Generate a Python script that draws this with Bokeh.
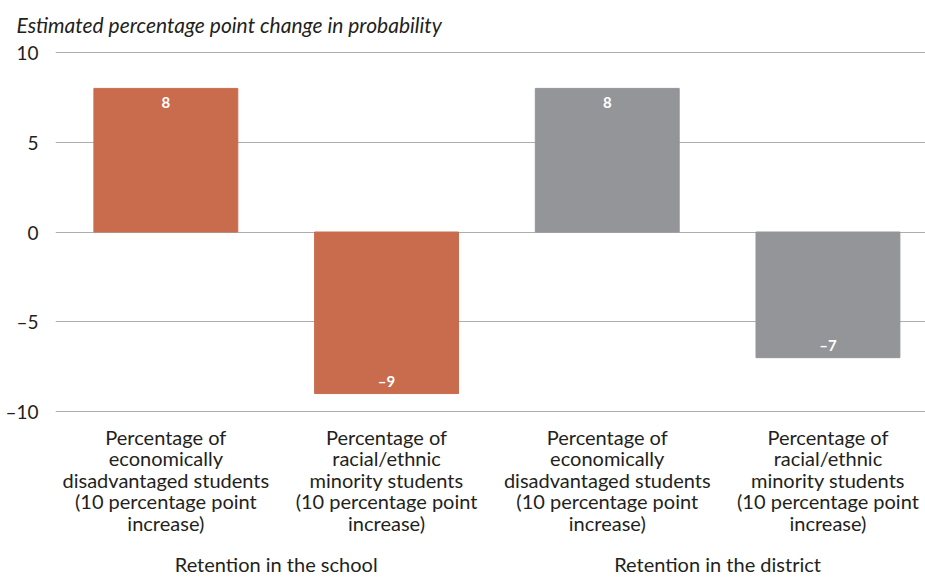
from bokeh.plotting import figure
from bokeh.models import ColumnDataSource, FixedTicker, LinearAxis, Range1d
from bokeh.core.properties import value
from bokeh.embed import file_html
from bokeh.resources import INLINE

# ---- data ----
categories = [
    "Percentage of\neconomically\ndisadvantaged students\n(10 percentage point\nincrease)",
    "Percentage of\nracial/ethnic\nminority students\n(10 percentage point\nincrease)",
    "Percentage of\neconomically\ndisadvantaged students\n(10 percentage point\nincrease)",
    "Percentage of\nracial/ethnic\nminority students\n(10 percentage point\nincrease)",
]
groups = ["Retention in the school", "Retention in the district"]
values = [8, -9, 8, -7]
bar_group = [0, 0, 1, 1]
group_colors = ["#C96C4D", "#939598"]
y_ticks = [-10, -5, 0, 5, 10]

def fmt(v):
    return ("\u2013" + str(abs(v))) if v < 0 else str(v)

xs = list(range(len(values)))
src = ColumnDataSource(dict(
    x=xs,
    top=values,
    color=[group_colors[g] for g in bar_group],
    label=[fmt(v) for v in values],
    yoff=[14 if v >= 0 else -13 for v in values],
))

FONT = "Lato"
TXT = "#231F20"

p = figure(width=925, height=578, output_backend="svg", toolbar_location=None,
           x_range=Range1d(-0.5, 3.442), y_range=Range1d(-10.11, 10.39),
           min_border_left=55, min_border_right=0, min_border_top=43,
           min_border_bottom=0)
p.outline_line_color = None
p.background_fill_color = "white"
p.border_fill_color = "white"

p.title.text = "Estimated percentage point change in probability"
p.title.text_font = FONT
p.title.text_font_style = "italic"
p.title.text_font_size = "21px"
p.title.text_color = TXT
p.title.align = "left"
p.title.offset = -39
p.title.standoff = 18

p.vbar(x="x", top="top", bottom=0, width=0.652, color="color", source=src)
p.text(x="x", y="top", text="label", source=src, text_color="white",
       text_font=value(FONT), text_font_style="bold", text_font_size="15px",
       text_align="center", text_baseline="middle", y_offset="yoff")

# y axis
p.yaxis.ticker = FixedTicker(ticks=y_ticks)
p.yaxis.major_label_overrides = {t: fmt(t) for t in y_ticks}
p.yaxis.axis_line_color = None
p.yaxis.major_tick_line_color = None
p.yaxis.minor_tick_line_color = None
p.yaxis.major_label_standoff = 11
p.yaxis.major_label_text_font = FONT
p.yaxis.major_label_text_font_size = "19px"
p.yaxis.major_label_text_color = TXT

p.ygrid.ticker = FixedTicker(ticks=y_ticks)
p.ygrid.grid_line_color = "#ADADAD"
p.ygrid.grid_line_width = 1
p.xgrid.grid_line_color = None

# category axis
xa = p.xaxis[0]
xa.ticker = FixedTicker(ticks=xs)
xa.major_label_overrides = {i: c for i, c in enumerate(categories)}
xa.axis_line_color = None
xa.major_tick_line_color = None
xa.minor_tick_line_color = None
xa.major_label_standoff = 5
xa.major_label_text_font = FONT
xa.major_label_text_font_size = "20px"
xa.major_label_text_line_height = 0.9
xa.major_label_text_color = TXT

# group axis
group_centers = [sum(x for x, g in zip(xs, bar_group) if g == k) /
                 bar_group.count(k) for k in range(len(groups))]
ga = LinearAxis(ticker=FixedTicker(ticks=group_centers),
                major_label_overrides={c: g for c, g in zip(group_centers, groups)})
ga.axis_line_color = None
ga.major_tick_line_color = None
ga.minor_tick_line_color = None
ga.major_label_standoff = 8
ga.major_label_text_font = FONT
ga.major_label_text_font_size = "20px"
ga.major_label_text_color = TXT
p.add_layout(ga, "below")

open("out.html", "w").write(file_html(p, INLINE))
